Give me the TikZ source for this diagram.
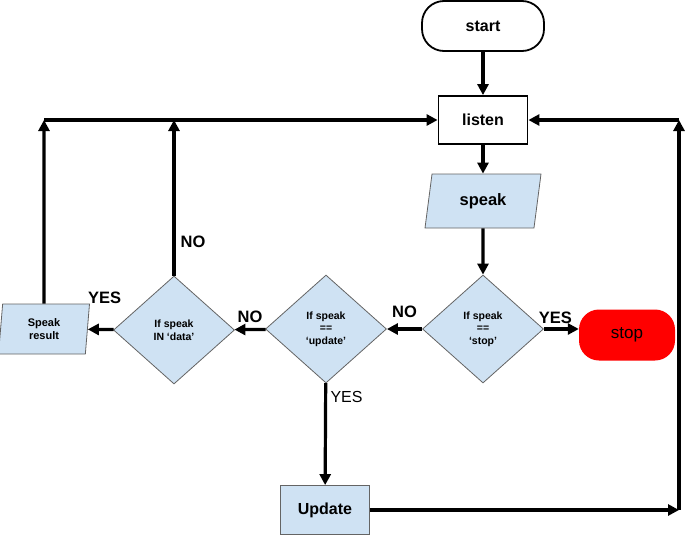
\documentclass[tikz,border=0pt]{standalone}
\usepackage{fontspec}
\setmainfont{Liberation Sans}
\usetikzlibrary{arrows.meta,positioning,shapes.geometric,calc}
\definecolor{paleblue}{RGB}{207,226,243}
\definecolor{edgegray}{RGB}{100,100,100}
\definecolor{stopred}{RGB}{255,0,0}

\begin{document}
\begin{tikzpicture}[
    x=1pt, y=-1pt,
    >={Triangle[length=11pt,width=11pt]},
    terminal/.style={draw=black, fill=white, line width=1.8pt, rounded corners=22pt, minimum width=122pt, minimum height=50pt, font=\fontsize{16}{18}\selectfont\bfseries},
    halt/.style={fill=stopred, rounded corners=20pt, minimum width=96pt, minimum height=51pt, font=\fontsize{17}{19}\selectfont},
    process/.style={draw=black, fill=white, line width=1.8pt, minimum width=89pt, minimum height=48pt, font=\fontsize{16}{18}\selectfont\bfseries},
    action/.style={draw=edgegray, fill=paleblue, line width=0.8pt, minimum width=89pt, minimum height=49pt, font=\fontsize{16}{18}\selectfont\bfseries},
    io/.style={trapezium, trapezium stretches body, draw=edgegray, fill=paleblue, line width=0.8pt, inner sep=1pt, align=center},
    decision/.style={diamond, draw=edgegray, fill=paleblue, line width=0.8pt, inner sep=0pt, minimum width=121pt, minimum height=108pt, align=center, font=\fontsize{10.5}{12.5}\selectfont\bfseries},
    arr/.style={->, line width=3.2pt},
    lbl/.style={font=\fontsize{16.5}{18}\selectfont\bfseries, inner sep=2pt}
]
\useasboundingbox (0,0) rectangle (685,536);

% main column
\node[terminal] (start) at (483,26) {start};
\node[process] (listen) at (483,120) {listen};
\node[io, trapezium left angle=68, trapezium right angle=112, minimum width=116pt, minimum height=54pt, font=\fontsize{16.5}{18}\selectfont\bfseries] (speak) at (483,201) {speak};

% decisions
\node[decision] (stopq) at (483,329) {If speak\\==\\‘stop’};
\node[decision] (updq) at (326,329) {If speak\\==\\‘update’};
\node[decision] (dataq) at (174,330) {If speak\\IN ‘data’};

% outcomes
\node[halt] (stop) at (627,335) {stop};
\node[io, trapezium left angle=80, trapezium right angle=100, minimum width=91pt, minimum height=50pt, font=\fontsize{11}{13.5}\selectfont\bfseries] (result) at (44,329) {Speak\\result};
\node[action] (upd) at (325,510) {Update};

% loop corners
\coordinate (cornerL) at (result.north |- listen.west);
\coordinate (joinD) at (dataq.north |- listen.west);
\coordinate (cornerR) at (679,120);
\coordinate (cornerB) at (cornerR |- upd.east);

% flow
\draw[arr] (start) -- (listen);
\draw[arr] (listen) -- (speak);
\draw[arr] (speak) -- (stopq);
\draw[arr] (stopq.east) -- node[lbl, above=2pt, xshift=-6pt] {YES} (stopq.east -| stop.west);
\draw[arr] (stopq) -- node[lbl, above=8pt] {NO} (updq);
\draw[arr] (updq) -- node[lbl, above=3pt] {NO} (dataq);
\draw[arr] (dataq) -- node[lbl, above=22pt, xshift=4pt] {YES} (result);
\draw[arr] (updq) -- node[pos=0.14, right, font=\fontsize{16}{18}\selectfont] {YES} (upd);

% back to listen
\draw[arr] (result) -- (cornerL);
\draw[arr] (dataq) -- node[lbl, pos=0.22, right=3pt] {NO} (joinD);
\draw[arr] (cornerL) -- (listen);
\draw[arr] (upd) -- (cornerB);
\draw[arr] (cornerB) -- (cornerR);
\draw[arr] (cornerR) -- (listen);
\end{tikzpicture}
\end{document}
